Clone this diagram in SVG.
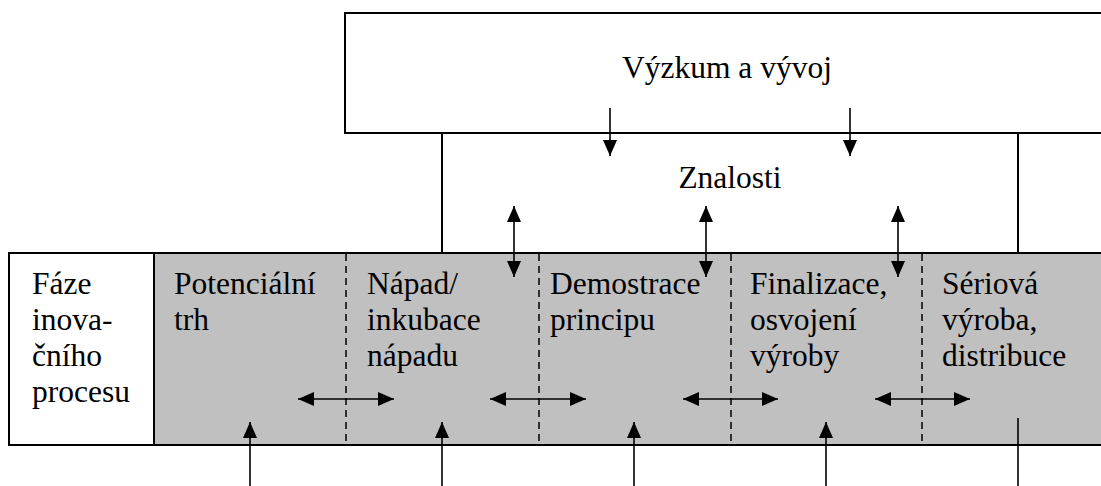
<svg xmlns="http://www.w3.org/2000/svg" width="1101" height="486" viewBox="0 0 1101 486">
<style>
.box{fill:#fff;stroke:#000;stroke-width:2}
.band{fill:#c0c0c0;stroke:#000;stroke-width:2}
.div{stroke:#000;stroke-width:1.5;stroke-dasharray:7 5;fill:none}
.t{font-family:'Liberation Serif','Times New Roman',serif;font-size:31.5px;fill:#000}
.c{stroke:#000;stroke-width:1.6;fill:none}
</style>
<defs>
<marker id="ah" viewBox="0 0 16 14" refX="16" refY="7" markerWidth="16" markerHeight="14" orient="auto-start-reverse" markerUnits="userSpaceOnUse"><path d="M0,0 L16,7 L0,14 z" fill="#000"/></marker>
</defs>
<g id="research">
<rect class="box" x="345" y="13" width="760" height="120"/>
<text class="t" x="727" y="78" text-anchor="middle">Výzkum a vývoj</text>
</g>
<g id="knowledge">
<rect class="box" x="442" y="133" width="576" height="120"/>
<text class="t" x="730" y="188" text-anchor="middle">Znalosti</text>
</g>
<g id="phase-band">
<rect class="band" x="154" y="253" width="950" height="192"/>
<line class="div" x1="346" y1="254" x2="346" y2="444"/>
<line class="div" x1="539" y1="254" x2="539" y2="444"/>
<line class="div" x1="731" y1="254" x2="731" y2="444"/>
<line class="div" x1="922" y1="254" x2="922" y2="444"/>
</g>
<g id="phase-label">
<rect class="box" x="9" y="253" width="145" height="192"/>
<text class="t" x="32" y="294">Fáze<tspan x="32" dy="36">inova-</tspan><tspan x="32" dy="36">čního</tspan><tspan x="32" dy="36">procesu</tspan></text>
</g>
<g id="phase1"><text class="t" x="174" y="294">Potenciální<tspan x="174" dy="36">trh</tspan></text></g>
<g id="phase2"><text class="t" x="367" y="294">Nápad/<tspan x="367" dy="36">inkubace</tspan><tspan x="367" dy="36">nápadu</tspan></text></g>
<g id="phase3"><text class="t" x="550" y="294">Demostrace<tspan x="550" dy="36">principu</tspan></text></g>
<g id="phase4"><text class="t" x="750" y="294">Finalizace,<tspan x="750" dy="36">osvojení</tspan><tspan x="750" dy="36">výroby</tspan></text></g>
<g id="phase5"><text class="t" x="942" y="294">Sériová<tspan x="942" dy="36">výroba,</tspan><tspan x="942" dy="36">distribuce</tspan></text></g>
<g id="connectors">
<line class="c" x1="610" y1="108" x2="610" y2="156" marker-end="url(#ah)"/>
<line class="c" x1="850" y1="108" x2="850" y2="156" marker-end="url(#ah)"/>
<line class="c" x1="514" y1="206" x2="514" y2="277" marker-start="url(#ah)" marker-end="url(#ah)"/>
<line class="c" x1="706" y1="206" x2="706" y2="277" marker-start="url(#ah)" marker-end="url(#ah)"/>
<line class="c" x1="898" y1="206" x2="898" y2="277" marker-start="url(#ah)" marker-end="url(#ah)"/>
<line class="c" x1="298" y1="399" x2="394" y2="399" marker-start="url(#ah)" marker-end="url(#ah)"/>
<line class="c" x1="490" y1="399" x2="586" y2="399" marker-start="url(#ah)" marker-end="url(#ah)"/>
<line class="c" x1="683" y1="399" x2="778" y2="399" marker-start="url(#ah)" marker-end="url(#ah)"/>
<line class="c" x1="875" y1="399" x2="970" y2="399" marker-start="url(#ah)" marker-end="url(#ah)"/>
<line class="c" x1="250" y1="486" x2="250" y2="422" marker-end="url(#ah)"/>
<line class="c" x1="442" y1="486" x2="442" y2="422" marker-end="url(#ah)"/>
<line class="c" x1="634" y1="486" x2="634" y2="422" marker-end="url(#ah)"/>
<line class="c" x1="826" y1="486" x2="826" y2="422" marker-end="url(#ah)"/>
<line class="c" x1="1018" y1="486" x2="1018" y2="418"/>
</g>
</svg>
